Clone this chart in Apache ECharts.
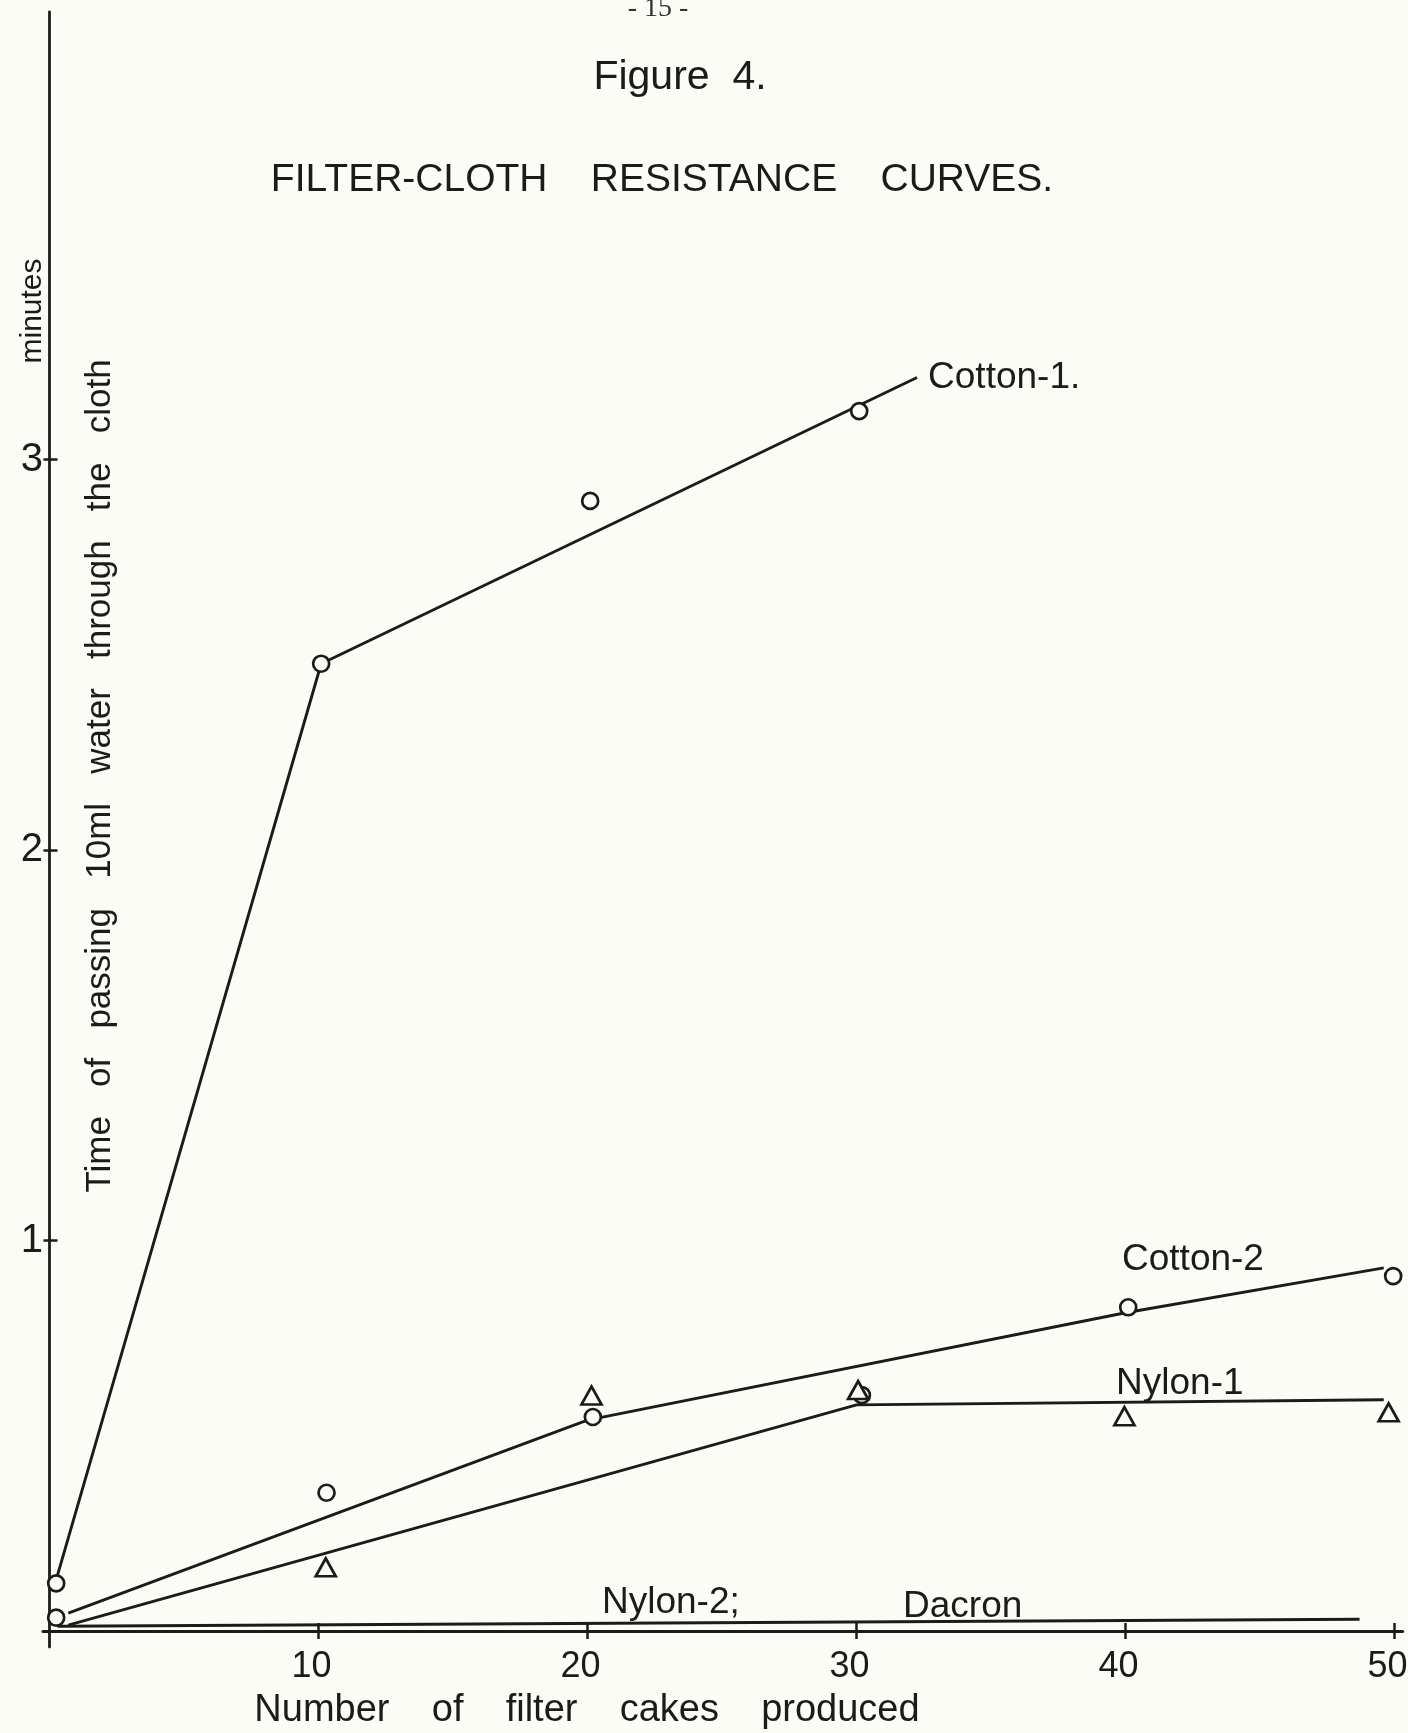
<!DOCTYPE html>
<html>
<head>
<meta charset="utf-8">
<script src="https://cdn.jsdelivr.net/npm/echarts@6/dist/echarts.min.js"></script>
<style>
  html, body { margin: 0; padding: 0; background: #fcfcf6; }
  #chart { width: 1408px; height: 1733px; }
</style>
</head>
<body>
<div id="chart"></div>
<script>
// ---- data ----
const xTicks = [10, 20, 30, 40, 50];
const yTicks = [1, 2, 3];

// measured points (x = number of filter cakes, y = minutes)
const cotton1Points = [[0.25, 0.122], [10.1, 2.477], [20.1, 2.894], [30.1, 3.124]];
const cotton2Points = [[0.25, 0.034], [10.3, 0.354], [20.2, 0.548], [30.2, 0.604], [40.1, 0.829], [49.95, 0.909]];
const nylon1Points  = [[10.27, 0.163], [20.15, 0.603], [30.06, 0.617], [39.96, 0.55], [49.78, 0.56]];

// hand-drawn curves
const cotton1Curve = [[0.3, 0.143], [10.1, 2.477], [32.25, 3.21]];
const cotton2Curve = [[0.7, 0.046], [20.0, 0.54], [40.0, 0.815], [49.6, 0.93]];
const nylon1Curve  = [[0.7, 0.015], [30.0, 0.579], [49.6, 0.592]];
const dacronCurve  = [[0.3, 0.012], [48.7, 0.03]];

// curve labels (text and anchor in data units: left edge, vertical middle)
const curveLabelText = ['Cotton-1.', 'Cotton-2', 'Nylon-1', 'Nylon-2;', 'Dacron'];
const curveLabelX    = [32.66, 39.87, 39.65, 20.54, 31.73];
const curveLabelY    = [3.209, 0.95, 0.632, 0.072, 0.062];

const INK = '#1b1b1b';
const PAPER = '#fcfcf6';
const FONT = '"Liberation Sans", Arial, sans-serif';

const chart = echarts.init(document.getElementById('chart'), null, { renderer: 'canvas' });

const lineSeries = (name, data) => ({
  name, type: 'line', data, showSymbol: false, symbol: 'none',
  lineStyle: { color: INK, width: 2.9 }, z: 2, silent: true, animation: false
});
const markerSeries = (name, data, symbol, size) => ({
  name, type: 'scatter', data, symbol, symbolSize: size,
  itemStyle: { color: PAPER, borderColor: INK, borderWidth: 2.7, opacity: 1 }, z: 5, animation: false
});

const labelData = curveLabelText.map((t, i) => ({ value: [curveLabelX[i], curveLabelY[i]], name: t }));

const option = {
  backgroundColor: PAPER,
  animation: false,
  grid: { left: 43, right: 5.4, top: 12, bottom: 86, containLabel: false, outerBoundsMode: 'none' },
  xAxis: [
    {
      type: 'value', min: -0.24, max: 50.3,
      axisLine: { onZero: true, lineStyle: { color: INK, width: 3 } },
      axisTick: { customValues: xTicks, length: 8, lineStyle: { color: INK, width: 2.5 } },
      axisLabel: { customValues: xTicks, color: INK, fontSize: 36, fontFamily: FONT, margin: 2, padding: [0, 14, 0, 0] },
      splitLine: { show: false }
    },
    {
      type: 'value', min: -0.24, max: 50.3, position: 'bottom', offset: -16,
      axisLine: { show: false, onZero: false },
      axisTick: { inside: true, customValues: xTicks, length: 8, lineStyle: { color: INK, width: 2.5 } },
      axisLabel: { show: false },
      splitLine: { show: false }
    }
  ],
  yAxis: [
    {
      type: 'value', min: -0.041, max: 4.146,
      axisLine: { onZero: true, lineStyle: { color: INK, width: 2.8 } },
      axisTick: { customValues: yTicks, length: 6, lineStyle: { color: INK, width: 2.5 } },
      axisLabel: { customValues: yTicks, color: INK, fontSize: 40, fontFamily: FONT, margin: 0 },
      splitLine: { show: false }
    },
    {
      type: 'value', min: -0.041, max: 4.146, position: 'left', offset: -6.5,
      axisLine: { show: false, onZero: false },
      axisTick: { inside: true, customValues: yTicks, length: 8, lineStyle: { color: INK, width: 2.5 } },
      axisLabel: { show: false },
      splitLine: { show: false }
    }
  ],
  series: [
    lineSeries('Cotton-1 curve', cotton1Curve),
    lineSeries('Cotton-2 curve', cotton2Curve),
    lineSeries('Nylon-1 curve', nylon1Curve),
    lineSeries('Nylon-2; Dacron curve', dacronCurve),
    markerSeries('Cotton-1', cotton1Points, 'circle', 16),
    markerSeries('Cotton-2', cotton2Points, 'circle', 16),
    markerSeries('Nylon-1', nylon1Points, 'triangle', [20, 18]),
    {
      name: 'labels', type: 'scatter', data: labelData, symbolSize: 0, z: 6, silent: true,
      itemStyle: { opacity: 1 },
      label: {
        show: true, position: 'right', distance: 0, formatter: p => p.name,
        color: INK, fontSize: 37, fontFamily: FONT
      }
    }
  ],
  graphic: [
    { type: 'text', x: 658, y: 9, style: { text: '- 15 -', font: '28px "Liberation Serif", serif', fill: '#333', textAlign: 'center', textVerticalAlign: 'middle' } },
    { type: 'text', x: 680, y: 78, style: { text: 'Figure  4.', font: '41px ' + FONT, fill: INK, textAlign: 'center', textVerticalAlign: 'middle' } },
    { type: 'text', x: 662, y: 180, style: { text: 'FILTER-CLOTH    RESISTANCE    CURVES.', font: '39px ' + FONT, fill: INK, textAlign: 'center', textVerticalAlign: 'middle' } },
    { type: 'text', x: 100, y: 776, rotation: Math.PI / 2, style: { text: 'Time   of   passing   10ml   water   through   the   cloth', font: '35px ' + FONT, fill: INK, textAlign: 'center', textVerticalAlign: 'middle' } },
    { type: 'text', x: 33, y: 311, rotation: Math.PI / 2, style: { text: 'minutes', font: '30px ' + FONT, fill: INK, textAlign: 'center', textVerticalAlign: 'middle' } },
    { type: 'text', x: 587, y: 1711, style: { text: 'Number    of    filter    cakes    produced', font: '38px ' + FONT, fill: INK, textAlign: 'center', textVerticalAlign: 'middle' } }
  ]
};
chart.setOption(option);
</script>
</body>
</html>
